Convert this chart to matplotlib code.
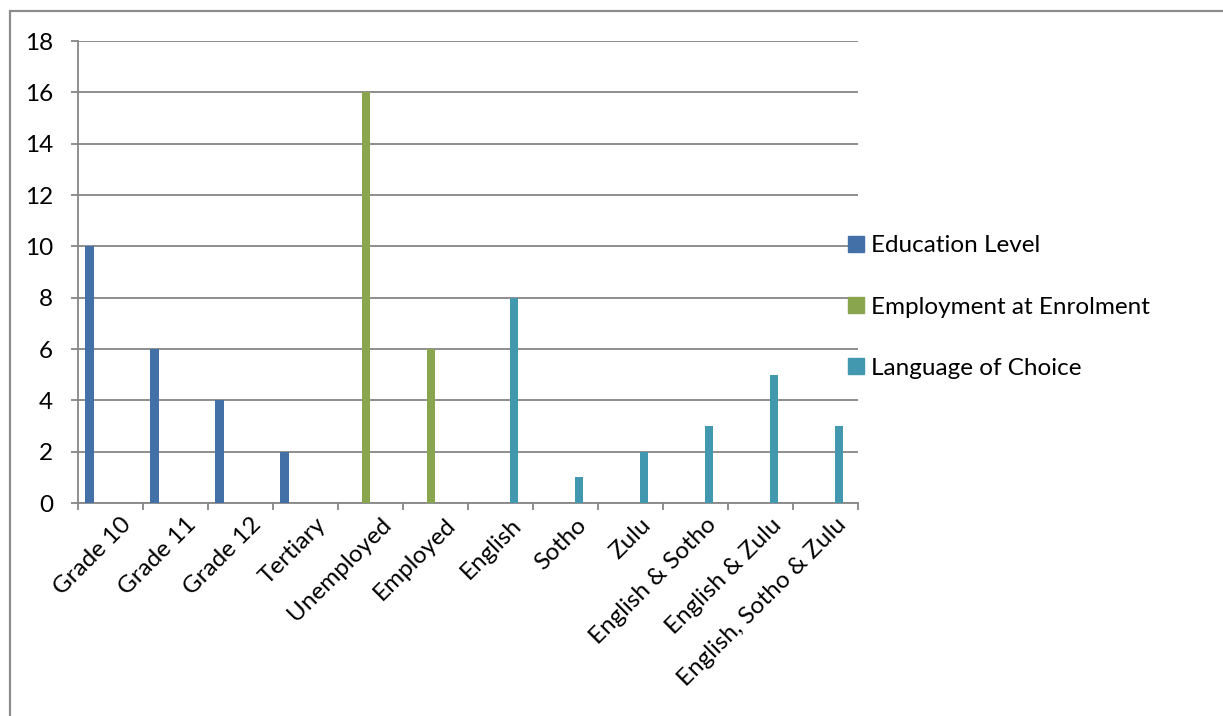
import matplotlib
matplotlib.use("Agg")
import matplotlib.pyplot as plt
from matplotlib.patches import Rectangle, Patch
from matplotlib.ticker import FixedLocator
import numpy as np

# datos del grafico
categorias = ["Grade 10", "Grade 11", "Grade 12", "Tertiary", "Unemployed", "Employed",
              "English", "Sotho", "Zulu", "English & Sotho", "English & Zulu",
              "English, Sotho & Zulu"]
series = ["Education Level", "Employment at Enrolment", "Language of Choice"]
educacion = [10, 6, 4, 2, 0, 0, 0, 0, 0, 0, 0, 0]
empleo = [0, 0, 0, 0, 16, 6, 0, 0, 0, 0, 0, 0]
idioma = [0, 0, 0, 0, 0, 0, 8, 1, 2, 3, 5, 3]
yticks = [0, 2, 4, 6, 8, 10, 12, 14, 16, 18]

colores = ["#4470A8", "#89A54E", "#4198AF"]
desplaz = [-0.323, -0.066, 0.203]
ancho = 0.128
gris = "#868686"
fs = 17.5

plt.rcParams['font.family'] = ['Lato', 'DejaVu Sans']

fig = plt.figure(figsize=(12.23, 7.16), dpi=100)
W, H = 1223, 716
# marco exterior
fig.patches.append(Rectangle((10 / W, -0.1), 1.2, 1 - 11 / H + 0.1, transform=fig.transFigure,
                             fill=False, edgecolor="#8C8C8C", linewidth=1.6))

ax = fig.add_axes([78 / W, 1 - 503 / H, 780 / W, 462 / H])
x = np.arange(len(categorias))
for vals, off, col, nom in zip([educacion, empleo, idioma], desplaz, colores, series):
    ax.bar(x + off, vals, width=ancho, color=col, label=nom, zorder=3)

ax.set_xlim(-0.5, len(categorias) - 0.5)
ax.set_ylim(0, 18)
ax.set_yticks(yticks)
ax.grid(axis='y', color=gris, linewidth=1.3, zorder=0)
for s in ['top', 'right']:
    ax.spines[s].set_visible(False)
for s in ['left', 'bottom']:
    ax.spines[s].set_color(gris)
    ax.spines[s].set_linewidth(1.3)

ax.tick_params(axis='y', length=5, width=1.3, color=gris, labelsize=fs, pad=13)
ax.set_xticks(x + 0.15)
ax.set_xticklabels(categorias, rotation=45, ha='right', va='top', rotation_mode='anchor', fontsize=fs)
ax.tick_params(axis='x', which='major', length=0, pad=8)
ax.xaxis.set_minor_locator(FixedLocator(np.arange(-0.5, len(categorias), 1)))
ax.tick_params(axis='x', which='minor', length=5, width=1.3, color=gris)

handles = [Patch(color=c, label=n) for c, n in zip(colores, series)]
fig.legend(handles=handles, loc='center left', bbox_to_anchor=(848 / W, 1 - 307 / H),
           frameon=False, fontsize=fs, handlelength=0.65, handleheight=0.65,
           handletextpad=0.3, labelspacing=1.65, borderpad=0, borderaxespad=0)

fig.savefig("out.png", dpi=100)
